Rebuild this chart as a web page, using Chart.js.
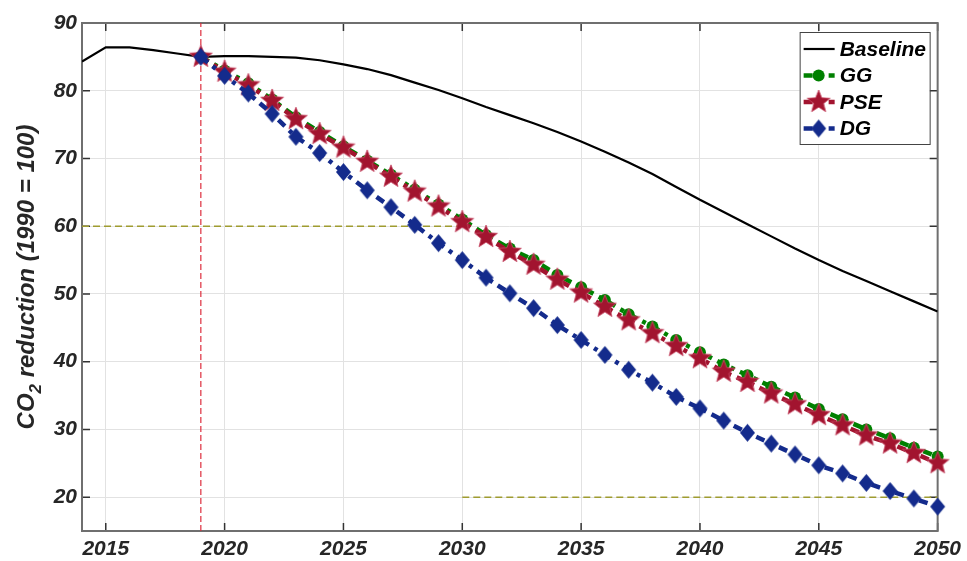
<!DOCTYPE html>
<html>
<head>
<meta charset="utf-8">
<script src="https://cdn.jsdelivr.net/npm/chart.js@4/dist/chart.umd.min.js"></script>
<style>
  html, body { margin: 0; padding: 0; background: #fff; }
  #wrap { width: 967px; height: 561px; }
</style>
</head>
<body>
<div id="wrap"><canvas id="co2_chart" width="967" height="561"></canvas></div>
<script>
// values
const baselineYears = [2014, 2015, 2016, 2017, 2018, 2019, 2020, 2021, 2022, 2023, 2024, 2025, 2026,
    2027, 2028, 2029, 2030, 2031, 2032, 2033, 2034, 2035, 2036, 2037, 2038, 2039, 2040,
    2041, 2042, 2043, 2044, 2045, 2046, 2047, 2048, 2049, 2050];
const baseline = [84.3, 86.4, 86.4, 86.0, 85.5, 85.0, 85.1, 85.1, 85.0, 84.9, 84.5, 83.9, 83.2,
    82.3, 81.2, 80.1, 78.9, 77.6, 76.4, 75.2, 73.9, 72.5, 71.0, 69.4, 67.7, 65.8, 63.9,
    62.1, 60.3, 58.5, 56.7, 55.0, 53.4, 51.9, 50.4, 48.9, 47.4];

const scenarioYears = [2019, 2020, 2021, 2022, 2023, 2024, 2025, 2026, 2027, 2028, 2029, 2030,
    2031, 2032, 2033, 2034, 2035, 2036, 2037, 2038, 2039, 2040,
    2041, 2042, 2043, 2044, 2045, 2046, 2047, 2048, 2049, 2050];
const gg = [85.0, 83.0, 81.1, 78.7, 76.1, 73.9, 71.8, 69.7, 67.6, 65.4, 63.2, 61.0,
    58.7, 56.7, 55.0, 52.8, 51.0, 49.1, 47.0, 45.2, 43.2, 41.4,
    39.6, 38.0, 36.3, 34.7, 33.0, 31.5, 30.0, 28.7, 27.3, 26.0];
const pse = [85.0, 82.8, 80.8, 78.5, 75.8, 73.6, 71.6, 69.5, 67.3, 65.1, 62.9, 60.6,
    58.4, 56.2, 54.3, 52.1, 50.2, 48.1, 46.1, 44.2, 42.3, 40.5,
    38.5, 37.0, 35.3, 33.7, 32.1, 30.6, 29.1, 27.9, 26.5, 25.0];
const dg = [85.0, 82.2, 79.6, 76.6, 73.2, 70.8, 68.0, 65.3, 62.8, 60.2, 57.5, 55.0,
    52.4, 50.1, 47.9, 45.4, 43.2, 41.0, 38.8, 36.9, 34.8, 33.1,
    31.3, 29.5, 27.9, 26.3, 24.7, 23.5, 22.1, 20.9, 19.8, 18.6];

// dashed guide lines
const nowYears = [2019, 2019];
const nowLevels = [15, 90];
const target60Years = [2014, 2030];
const target60 = [60, 60];
const target20Years = [2030, 2050];
const target20 = [20, 20];

const xTicks = [2015, 2020, 2025, 2030, 2035, 2040, 2045, 2050];
const yTicks = [20, 30, 40, 50, 60, 70, 80, 90];

const fontFamily = "'Liberation Sans', Arial, Helvetica, sans-serif";

function points(xs, ys) {
    const out = [];
    for (let i = 0; i < xs.length; i++) {
        out.push({ x: xs[i], y: ys[i] });
    }
    return out;
}

function makeStar(outer, inner, color) {
    const c = document.createElement("canvas");
    const s = Math.ceil(outer * 2 + 4);
    c.width = s;
    c.height = s;
    const ctx = c.getContext("2d");
    ctx.translate(s / 2, s / 2);
    ctx.beginPath();
    for (let i = 0; i < 10; i++) {
        const r = i % 2 === 0 ? outer : inner;
        const a = -Math.PI / 2 + i * Math.PI / 5;
        if (i === 0) ctx.moveTo(r * Math.cos(a), r * Math.sin(a));
        else ctx.lineTo(r * Math.cos(a), r * Math.sin(a));
    }
    ctx.closePath();
    ctx.fillStyle = color;
    ctx.fill();
    ctx.lineWidth = 0.8;
    ctx.strokeStyle = "#c84a66";
    ctx.stroke();
    return c;
}

function makeDiamond(hw, hh, color) {
    const c = document.createElement("canvas");
    c.width = Math.ceil(hw * 2 + 2);
    c.height = Math.ceil(hh * 2 + 2);
    const ctx = c.getContext("2d");
    ctx.translate(c.width / 2, c.height / 2);
    ctx.beginPath();
    ctx.moveTo(0, -hh);
    ctx.lineTo(hw, 0);
    ctx.lineTo(0, hh);
    ctx.lineTo(-hw, 0);
    ctx.closePath();
    ctx.fillStyle = color;
    ctx.fill();
    return c;
}

const green = "#008000";
const crimson = "#a2142f";
const navy = "#142b8c";
const starImg = makeStar(12, 5.2, crimson);
const diamondImg = makeDiamond(7.5, 9, navy);
const dashDot = [9, 6, 4, 6];

// box, inward tick marks (drawn under the data like the original)
const axesBox = {
    id: "axesBox",
    beforeDatasetsDraw(chart) {
        const ctx = chart.ctx;
        const a = chart.chartArea;
        const xs = chart.scales.x;
        const ys = chart.scales.y;
        ctx.save();
        ctx.strokeStyle = "#333";
        ctx.lineWidth = 1.5;
        ctx.beginPath();
        for (let i = 0; i < xTicks.length; i++) {
            const px = xs.getPixelForValue(xTicks[i]);
            ctx.moveTo(px, a.bottom);
            ctx.lineTo(px, a.bottom - 8);
            ctx.moveTo(px, a.top);
            ctx.lineTo(px, a.top + 8);
        }
        for (let i = 0; i < yTicks.length; i++) {
            const py = ys.getPixelForValue(yTicks[i]);
            ctx.moveTo(a.left, py);
            ctx.lineTo(a.left + 8, py);
            ctx.moveTo(a.right, py);
            ctx.lineTo(a.right - 8, py);
        }
        ctx.stroke();
        ctx.strokeStyle = "#6f6f6f";
        ctx.lineWidth = 2;
        ctx.strokeRect(a.left, a.top, a.right - a.left, a.bottom - a.top);
        ctx.restore();
    }
};

// y axis title with a real subscript 2
const yTitle = {
    id: "yTitle",
    afterDraw(chart) {
        const ctx = chart.ctx;
        const a = chart.chartArea;
        const big = "italic bold 24px " + fontFamily;
        const small = "italic bold 17px " + fontFamily;
        const head = "CO";
        const sub = "2";
        const tail = " reduction (1990 = 100)";
        ctx.save();
        ctx.font = big;
        const w1 = ctx.measureText(head).width;
        const w3 = ctx.measureText(tail).width;
        ctx.font = small;
        const w2 = ctx.measureText(sub).width;
        const total = w1 + w2 + w3;
        ctx.translate(34, (a.top + a.bottom) / 2);
        ctx.rotate(-Math.PI / 2);
        ctx.fillStyle = "#262626";
        ctx.textBaseline = "alphabetic";
        ctx.textAlign = "left";
        let x = -total / 2;
        ctx.font = big;
        ctx.fillText(head, x, 0);
        x += w1;
        ctx.font = small;
        ctx.fillText(sub, x, 7);
        x += w2;
        ctx.font = big;
        ctx.fillText(tail, x, 0);
        ctx.restore();
    }
};

// legend box in the top right corner of the plot
const cornerLegend = {
    id: "cornerLegend",
    afterDraw(chart) {
        const ctx = chart.ctx;
        const a = chart.chartArea;
        const w = 130;
        const h = 112;
        const left = a.right - w - 8;
        const top = a.top + 9;
        const rows = [
            { label: "Baseline", color: "#000", dash: [], width: 2.2, style: false },
            { label: "GG", color: green, dash: dashDot, width: 4.5, style: "circle", radius: 6 },
            { label: "PSE", color: crimson, dash: dashDot, width: 4.5, style: starImg, radius: 11 },
            { label: "DG", color: navy, dash: dashDot, width: 4.5, style: diamondImg, radius: 9 }
        ];
        ctx.save();
        ctx.fillStyle = "#fff";
        ctx.fillRect(left, top, w, h);
        ctx.strokeStyle = "#444";
        ctx.lineWidth = 1;
        ctx.strokeRect(left + 0.5, top + 0.5, w, h);
        for (let i = 0; i < rows.length; i++) {
            const r = rows[i];
            const cy = top + 17 + i * 26.5;
            ctx.strokeStyle = r.color;
            ctx.lineWidth = r.width;
            ctx.setLineDash(r.dash);
            ctx.beginPath();
            ctx.moveTo(left + 4, cy);
            ctx.lineTo(left + 35, cy);
            ctx.stroke();
            ctx.setLineDash([]);
            if (r.style) {
                ctx.fillStyle = r.color;
                Chart.helpers.drawPoint(ctx, { pointStyle: r.style, radius: r.radius, rotation: 0, borderWidth: 0 }, left + 19, cy);
            }
            ctx.fillStyle = "#000";
            ctx.font = "italic bold 21px " + fontFamily;
            ctx.textBaseline = "middle";
            ctx.textAlign = "left";
            ctx.fillText(r.label, left + 40, cy + 1);
        }
        ctx.restore();
    }
};

const canvas = document.getElementById("co2_chart").getContext("2d");
const tickFont = { family: fontFamily, size: 21, style: "italic", weight: "bold" };

const chart = new Chart(canvas, {
    type: "line",
    data: {
        datasets: [
            {
                label: "DG",
                data: points(scenarioYears, dg),
                borderColor: navy,
                borderWidth: 4.5,
                borderDash: dashDot,
                pointStyle: diamondImg,
                pointRadius: 9,
                pointBackgroundColor: navy,
                order: 0,
                clip: false
            },
            {
                label: "PSE",
                data: points(scenarioYears, pse),
                borderColor: crimson,
                borderWidth: 4.5,
                borderDash: dashDot,
                pointStyle: starImg,
                pointRadius: 11,
                pointBackgroundColor: crimson,
                order: 1,
                clip: false
            },
            {
                label: "GG",
                data: points(scenarioYears, gg),
                borderColor: green,
                borderWidth: 4.5,
                borderDash: dashDot,
                pointStyle: "circle",
                pointRadius: 6,
                pointBorderWidth: 0,
                pointBackgroundColor: green,
                order: 2,
                clip: false
            },
            {
                label: "Baseline",
                data: points(baselineYears, baseline),
                borderColor: "#000",
                borderWidth: 2.2,
                pointRadius: 0,
                order: 3
            },
            {
                label: "now",
                data: points(nowYears, nowLevels),
                borderColor: "#dd2c3c",
                borderWidth: 1.2,
                borderDash: [6, 3],
                pointRadius: 0,
                order: 4
            },
            {
                label: "target 60",
                data: points(target60Years, target60),
                borderColor: "#9f9c30",
                borderWidth: 1.5,
                borderDash: [7, 4],
                pointRadius: 0,
                order: 5
            },
            {
                label: "target 20",
                data: points(target20Years, target20),
                borderColor: "#9f9c30",
                borderWidth: 1.5,
                borderDash: [7, 4],
                pointRadius: 0,
                order: 6
            }
        ]
    },
    options: {
        responsive: false,
        animation: false,
        layout: { padding: { top: 23, right: 27, left: 0, bottom: 0 } },
        plugins: {
            legend: { display: false },
            tooltip: { enabled: false }
        },
        scales: {
            x: {
                type: "linear",
                min: 2014,
                max: 2050,
                afterBuildTicks: function(scale) {
                    scale.ticks = xTicks.map(function(v) { return { value: v }; });
                },
                afterFit: function(scale) { scale.height = 30; },
                grid: { color: "#e2e2e2", lineWidth: 1, drawTicks: false },
                border: { display: false },
                ticks: {
                    font: tickFont,
                    color: "#262626",
                    padding: 6,
                    maxRotation: 0,
                    callback: function(v) { return String(v); }
                }
            },
            y: {
                type: "linear",
                min: 15,
                max: 90,
                afterBuildTicks: function(scale) {
                    scale.ticks = yTicks.map(function(v) { return { value: v }; });
                },
                afterFit: function(scale) { scale.width = 82; },
                grid: { color: "#e2e2e2", lineWidth: 1, drawTicks: false },
                border: { display: false },
                ticks: { font: tickFont, color: "#262626", padding: 5 }
            }
        }
    },
    plugins: [axesBox, yTitle, cornerLegend]
});
</script>
</body>
</html>
